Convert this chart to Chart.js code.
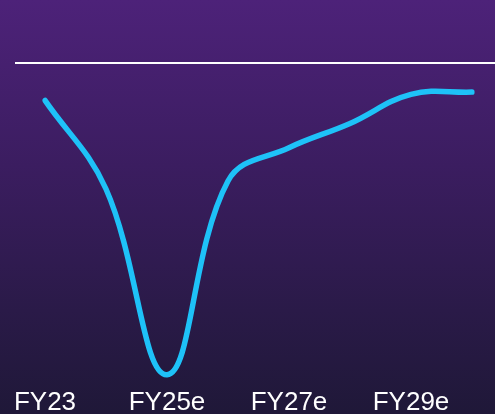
<!DOCTYPE html>
<html>
<head>
<meta charset="utf-8">
<script src="https://cdn.jsdelivr.net/npm/chart.js@4/dist/chart.umd.min.js"></script>
<style>
  html, body { margin: 0; padding: 0; overflow: hidden; }
  body {
    width: 495px; height: 414px;
    background: linear-gradient(to bottom, #4d2279 0%, #3b1d60 40%, #2a1a48 75%, #1f1838 100%);
  }
  #wrap { position: relative; width: 495px; height: 414px; }
</style>
</head>
<body>
<div id="wrap"><canvas id="c"></canvas></div>
<script>
// Fiscal years (every other one is labelled on the axis)
const categories = ['FY23', 'FY24e', 'FY25e', 'FY26e', 'FY27e', 'FY28e', 'FY29e', 'FY30e'];
// Series values, relative to the zero baseline
const values = [-11.7, -39.4, -97.5, -36.9, -26.5, -18.9, -9.8, -9.1];
// Value range of the vertical scale
const yRange = { min: -100, max: 0 };

const zeroLineColor = (ctx) => (ctx.tick && ctx.tick.value === 0 ? '#ffffff' : 'rgba(0,0,0,0)');

new Chart(document.getElementById('c'), {
  type: 'line',
  data: {
    labels: categories,
    datasets: [{
      data: values,
      borderColor: '#1ec2f8',
      borderWidth: 5.5,
      borderCapStyle: 'round',
      borderJoinStyle: 'round',
      pointRadius: 0,
      pointHoverRadius: 0,
      tension: 0.4,
      fill: false
    }]
  },
  options: {
    responsive: true,
    maintainAspectRatio: false,
    animation: false,
    events: [],
    layout: { padding: { left: 15, right: 0, top: 63, bottom: -8 } },
    plugins: { legend: { display: false }, tooltip: { enabled: false } },
    scales: {
      x: {
        grid: { display: false, drawTicks: false },
        border: { display: false },
        ticks: {
          autoSkip: false,
          maxRotation: 0,
          padding: 4,
          color: '#ffffff',
          font: { family: '"Liberation Sans", Arial, sans-serif', size: 26 },
          callback: (v, i) => (i % 2 === 0 ? categories[i] : '')
        }
      },
      y: {
        position: 'left',
        min: yRange.min,
        max: yRange.max,
        ticks: { display: false, stepSize: 20 },
        border: { display: false },
        grid: { color: zeroLineColor, lineWidth: 2, tickLength: 30, drawTicks: true }
      },
      y2: {
        position: 'right',
        min: yRange.min,
        max: yRange.max,
        ticks: { display: false, stepSize: 20 },
        border: { display: false },
        grid: { color: zeroLineColor, lineWidth: 2, tickLength: 23, drawTicks: true }
      }
    }
  }
});
</script>
</body>
</html>
